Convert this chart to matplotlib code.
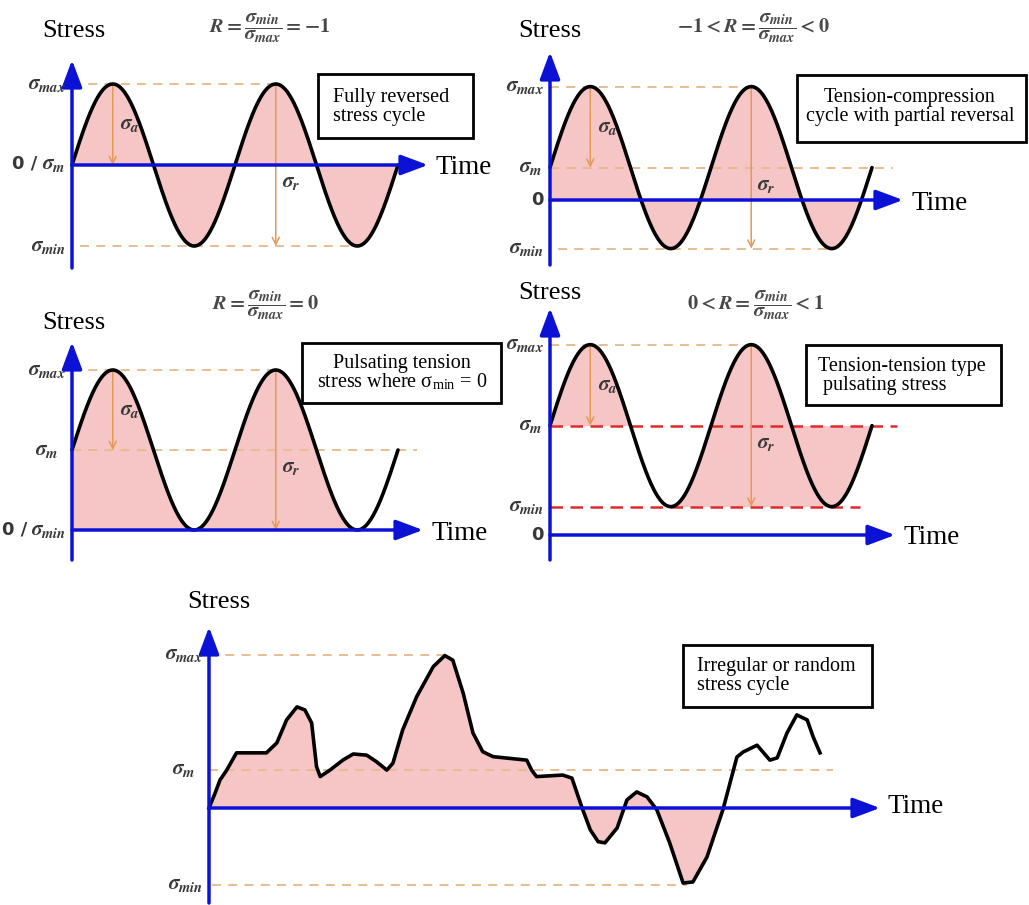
import numpy as np
import matplotlib.pyplot as plt
from matplotlib.patches import Rectangle

plt.rcParams['mathtext.fontset'] = 'stix'
plt.rcParams['mathtext.rm'] = 'STIXGeneral:bold'
plt.rcParams['mathtext.it'] = 'STIXGeneral:italic:bold'
plt.rcParams['mathtext.bf'] = 'STIXGeneral:bold'
plt.rcParams['font.family'] = ['Liberation Serif', 'DejaVu Serif']

W, H = 1029, 905

# constant amplitude cycles (stress in units of the amplitude), 2 cycles each
sig_max = [1.0, 1.4, 2.0, 2.35]
sig_min = [-1.0, -0.6, 0.0, 0.35]
n_cycles = 2
formulas = [r'$R = \dfrac{\sigma_{min}}{\sigma_{max}} = -1$',
            r'$-1 < R = \dfrac{\sigma_{min}}{\sigma_{max}} < 0$',
            r'$R = \dfrac{\sigma_{min}}{\sigma_{max}} = 0$',
            r'$0 < R = \dfrac{\sigma_{min}}{\sigma_{max}} < 1$']
box_text = ['Fully reversed\nstress cycle',
            'Tension-compression\ncycle with partial reversal',
            'Pulsating tension\nstress where σ$_{\\mathregular{min}}$ = 0',
            'Tension-tension type\n pulsating stress']

# irregular / random stress history
t_rand = [0, 1.0, 1.8, 2.9, 4.5, 9.4, 11.1, 12.7, 14.4, 15.7, 16.8, 17.6, 18.2,
          19.8, 21.9, 23.6, 25.8, 27.4, 29.1, 30.1, 31.7, 34.0, 36.7, 38.6,
          39.9, 41.6, 43.2, 44.8, 46.5, 52.0, 52.8, 53.6, 57.9, 59.4, 61.0,
          62.4, 63.7, 64.8, 66.8, 68.4, 70.0, 71.7, 73.3, 75.4, 77.6, 79.2,
          81.5, 84.1, 86.4, 87.4, 89.7, 91.8, 93.0, 94.6, 96.2, 97.9, 98.9, 100.0]
s_rand = [0, 0.39, 0.73, 0.99, 1.44, 1.44, 1.70, 2.30, 2.64, 2.56, 2.22, 1.08,
          0.82, 0.99, 1.25, 1.41, 1.38, 1.21, 0.99, 1.17, 2.04, 2.91, 3.69, 3.98,
          3.86, 3.00, 1.96, 1.47, 1.34, 1.25, 0.99, 0.82, 0.86, 0.78, 0.03,
          -0.57, -0.88, -0.91, -0.52, 0.21, 0.42, 0.29, -0.05, -0.91, -1.96, -1.93,
          -1.28, -0.05, 1.33, 1.46, 1.64, 1.25, 1.31, 1.96, 2.43, 2.30, 1.85, 1.44]
rand_max, rand_m, rand_min = 4.0, 1.0, -2.0

BLUE = '#0b12d6'
PINK = '#f6c5c5'
GUIDE = '#e6b98a'
ARROW = '#e39a58'
RED = '#e02a2a'
LABEL = '#383838'

fig = plt.figure(figsize=(W / 100, H / 100), dpi=100)


def panel(ox, oy, kx, ky):
    # full-figure axes whose data origin sits at pixel (ox, oy)
    ax = fig.add_axes([0, 0, 1, 1])
    ax.set_xlim(-ox / kx, (W - ox) / kx)
    ax.set_ylim((oy - H) / ky, oy / ky)
    ax.axis('off')
    ax.patch.set_alpha(0)
    return ax


def ftext(x, y, s, **kw):
    kw.setdefault('va', 'center')
    fig.text(x / W, 1 - y / H, s, **kw)


def mlabel(x, y, s, size=15, **kw):
    # bold italic math labels (Cambria Math look)
    ftext(x, y, s, fontsize=size, color=LABEL, math_fontfamily='custom', **kw)


def zero_label(x, y):
    ftext(x, y - 1, '0 /', ha='right', fontsize=13, color=LABEL, family='DejaVu Sans', weight='bold')


def box(x0, y0, x1, y1):
    fig.add_artist(Rectangle((x0 / W, 1 - y1 / H), (x1 - x0) / W, (y1 - y0) / H,
                             transform=fig.transFigure, fc='white', ec='black', lw=2, zorder=2))


def draw_axes(ax, t_end, s_bot, s_top):
    st = '-|>,head_length=0.75,head_width=0.28'
    ax.annotate('', xy=(t_end, 0), xytext=(0, 0), zorder=6,
                arrowprops=dict(arrowstyle=st, color=BLUE, lw=2.5, shrinkA=0, shrinkB=0, mutation_scale=22))
    ax.annotate('', xy=(0, s_top), xytext=(0, s_bot), zorder=6,
                arrowprops=dict(arrowstyle=st, color=BLUE, lw=2.5, shrinkA=0, shrinkB=0, mutation_scale=22))


def small_arrow(ax, t, s0, s1):
    ax.annotate('', xy=(t, s1), xytext=(t, s0), zorder=4,
                arrowprops=dict(arrowstyle='->,head_length=0.5,head_width=0.25', color=ARROW,
                                lw=1.1, shrinkA=0, shrinkB=0, mutation_scale=10))


def guide(ax, s, t0, t1, color=GUIDE, lw=1.3, dashes=(5, 4)):
    ax.plot([t0, t1], [s, s], color=color, lw=lw, dashes=dashes, zorder=3)


# pixel layout of the four sine panels: origin x, origin y, px per cycle, px per unit stress
layout = [(72, 165, 163, 81), (550, 200, 161, 81), (72, 530, 163, 80), (550, 535, 161, 81)]
axis_ext = [(428, 268, 60), (903, 265, 52), (423, 560, 342), (895, 560, 308)]
m_end = [None, 893, 417, 897]

for i in range(4):
    ox, oy, kx, ky = layout[i]
    ax = panel(ox, oy, kx, ky)
    smax, smin = sig_max[i], sig_min[i]
    sm, sa = (smax + smin) / 2, (smax - smin) / 2
    t = np.linspace(0, n_cycles, 601)
    s = sm + sa * np.sin(2 * np.pi * t)

    if i == 0:
        ax.fill_between(t, s, 0, color=PINK, lw=0, zorder=1)
    elif i in (1, 2):
        # last rising branch is only shaded below the time axis
        ax.fill_between(t, s, 0, where=(t <= 1.75) | (s <= 0), interpolate=True,
                        color=PINK, lw=0, zorder=1)
    else:
        ax.fill_between(t, sm, s, where=(t <= 0.75) & (s >= sm), interpolate=True,
                        color=PINK, lw=0, zorder=1)
        k = t >= 0.75
        lower = np.where(t[k] <= 1.75, smin, s[k])
        upper = np.where(t[k] < 1.5, s[k], sm)
        ax.fill_between(t[k], lower, upper, color=PINK, lw=0, zorder=1)

    guide(ax, smax, 0, 1.25)
    if i == 3:
        guide(ax, sm, 0, (m_end[i] - ox) / kx, color=RED, lw=1.8, dashes=(5, 3))
        guide(ax, smin, 0, (860 - ox) / kx, color=RED, lw=1.8, dashes=(5, 3))
    else:
        if i != 2:
            guide(ax, smin, 0.05, 1.75)
        if m_end[i]:
            guide(ax, sm, 0, (m_end[i] - ox) / kx)

    ax.plot(t, s, color='black', lw=2.6, zorder=5, solid_capstyle='round')
    small_arrow(ax, 0.25, smax, sm)
    small_arrow(ax, 1.25, smax, smin)

    te, yb, yt = axis_ext[i]
    draw_axes(ax, (te - ox) / kx, (oy - yb) / ky, (oy - yt) / ky)

    # labels beside the axis
    lx = ox - 6
    mlabel(lx, oy - smax * ky, r'$\sigma_{max}$', ha='right')
    if i == 0:
        mlabel(lx - 1, oy, r'$\sigma_m$', ha='right')
        zero_label(37, oy)
        mlabel(lx, oy - smin * ky, r'$\sigma_{min}$', ha='right')
    elif i == 2:
        mlabel(lx - 8, oy - sm * ky, r'$\sigma_m$', ha='right')
        mlabel(lx, oy, r'$\sigma_{min}$', ha='right')
        zero_label(27, oy)
    else:
        mlabel(lx - 2, oy - sm * ky, r'$\sigma_m$', ha='right')
        mlabel(lx, oy - smin * ky, r'$\sigma_{min}$', ha='right')
        mlabel(lx, oy, '0', size=13, ha='right', family='DejaVu Sans', weight='bold')

    mlabel(ox + 0.25 * kx + 17, oy - (smax + sm) / 2 * ky, r'$\sigma_a$', ha='center')
    mlabel(ox + 1.25 * kx + 15, oy - (sm - 0.22) * ky, r'$\sigma_r$', ha='center')
    ftext(te + 8, oy + 3, 'Time', ha='left', fontsize=19.5)

# titles, "Stress" labels and boxes of the sine panels
ftext(42, 31, 'Stress', ha='left', fontsize=19)
ftext(518, 31, 'Stress', ha='left', fontsize=19)
ftext(42, 323, 'Stress', ha='left', fontsize=19)
ftext(518, 293, 'Stress', ha='left', fontsize=19)
for (x, y), f in zip([(270, 28), (753, 28), (265, 305), (755, 305)], formulas):
    ftext(x, y, f, ha='center', fontsize=14.5, color='#474747', math_fontfamily='custom')

box(318, 74, 473, 138)
ftext(333, 107, box_text[0], ha='left', fontsize=14.5, linespacing=0.95)
box(797, 75, 1026, 142)
ftext(910, 107, box_text[1], ha='center', fontsize=14.5, linespacing=0.95)
box(302, 343, 501, 403)
ftext(402, 373, box_text[2], ha='center', fontsize=14.5, linespacing=0.95)
box(806, 345, 1001, 405)
ftext(818, 376, box_text[3], ha='left', fontsize=14.5, linespacing=0.95)

# irregular stress history
ox, oy, kx, ky = 209, 808, 6.11, 38.3
ax = panel(ox, oy, kx, ky)
t_r = np.array(t_rand)
s_r = np.array(s_rand)
ax.fill_between(t_r, s_r, 0, where=t_r <= 84.1, color=PINK, lw=0, zorder=1)
guide(ax, rand_max, 0, 38.6)
guide(ax, rand_m, 0, (833 - ox) / kx)
guide(ax, rand_min, 0.5, (687 - ox) / kx)
ax.plot(t_r, s_r, color='black', lw=2.6, zorder=5, solid_joinstyle='round')
draw_axes(ax, (880 - ox) / kx, (oy - 903) / ky, (oy - 627) / ky)
mlabel(203, oy - rand_max * ky, r'$\sigma_{max}$', ha='right')
mlabel(195, oy - rand_m * ky, r'$\sigma_m$', ha='right')
mlabel(203, oy - rand_min * ky, r'$\sigma_{min}$', ha='right')
ftext(887, oy - 2, 'Time', ha='left', fontsize=19.5)
ftext(187, 602, 'Stress', ha='left', fontsize=19)
box(683, 645, 872, 707)
ftext(697, 676, 'Irregular or random\nstress cycle', ha='left', fontsize=14.5, linespacing=0.95)

fig.savefig('out.png', dpi=100)
